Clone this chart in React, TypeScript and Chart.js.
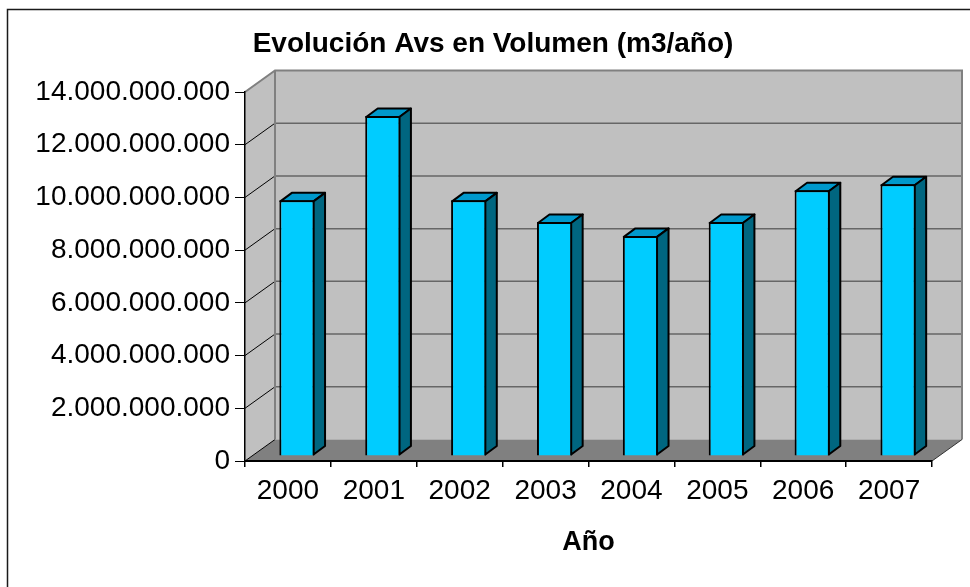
import React, { useEffect, useRef } from 'react';
import { Chart, registerables } from 'chart.js';

Chart.register(...registerables);

const categories = ['2000', '2001', '2002', '2003', '2004', '2005', '2006', '2007'];
const volumes = [9700000000, 12900000000, 9700000000, 8880000000, 8350000000, 8880000000, 10080000000, 10310000000];
const yMin = 0;
const yMax = 14000000000;
const yStep = 2000000000;

const titleText = 'Evolución Avs en Volumen (m3/año)';
const xTitleText = 'Año';

// 3D projection offsets (pixels)
const DX = 30;
const DY = -21.5;
const BDX = 9;
const BDY = -5;
const DDX = 11.5;
const DDY = -8.5;

const FRONT = '#00CCFF';
const TOP = '#0099CC';
const SIDE = '#006680';
const WALL = '#C0C0C0';
const FLOOR = '#808080';
const EDGE = '#808080';

const fmt = (v: number) => String(Math.round(v)).replace(/\B(?=(\d{3})+(?!\d))/g, '.');

const wallsPlugin = {
  id: 'walls3d',
  beforeDraw(chart: any) {
    const { ctx, chartArea, scales } = chart;
    const { left, right, top, bottom } = chartArea;
    const y = scales.y;
    ctx.save();
    ctx.fillStyle = '#fff';
    ctx.fillRect(0, 0, chart.width, chart.height);
    // outer frame
    ctx.strokeStyle = '#1a1a1a';
    ctx.lineWidth = 1.5;
    ctx.strokeRect(7.5, 9.5, chart.width + 40, chart.height + 40);

    // back wall
    ctx.fillStyle = WALL;
    ctx.fillRect(left + DX, top + DY, right - left, bottom - top);
    // side wall
    ctx.beginPath();
    ctx.moveTo(left, top);
    ctx.lineTo(left + DX, top + DY);
    ctx.lineTo(left + DX, bottom + DY);
    ctx.lineTo(left, bottom);
    ctx.closePath();
    ctx.fill();
    // floor
    ctx.fillStyle = FLOOR;
    ctx.beginPath();
    ctx.moveTo(left, bottom);
    ctx.lineTo(left + DX, bottom + DY);
    ctx.lineTo(right + DX, bottom + DY);
    ctx.lineTo(right, bottom);
    ctx.closePath();
    ctx.fill();

    // gridlines on back wall + diagonals on side wall
    y.ticks.forEach((t: any) => {
      const py = y.getPixelForValue(t.value);
      if (t.value > yMin && t.value < yMax) {
        ctx.strokeStyle = '#666';
        ctx.lineWidth = 1.5;
        ctx.beginPath();
        ctx.moveTo(left + DX, py + DY);
        ctx.lineTo(right + DX, py + DY);
        ctx.stroke();
      }
      if (t.value < yMax) {
        ctx.strokeStyle = '#000';
        ctx.lineWidth = 1;
        ctx.beginPath();
        ctx.moveTo(left, py);
        ctx.lineTo(left + DX, py + DY);
        ctx.stroke();
      }
    });

    // wall edges
    ctx.strokeStyle = EDGE;
    ctx.lineWidth = 2;
    ctx.beginPath();
    ctx.moveTo(left, top);
    ctx.lineTo(left + DX, top + DY);
    ctx.lineTo(right + DX, top + DY);
    ctx.lineTo(right + DX, bottom + DY);
    ctx.moveTo(left + DX, top + DY);
    ctx.lineTo(left + DX, bottom + DY);
    ctx.stroke();

    // floor right edge
    ctx.strokeStyle = '#333';
    ctx.lineWidth = 1;
    ctx.beginPath();
    ctx.moveTo(right, bottom);
    ctx.lineTo(right + DX, bottom + DY);
    ctx.stroke();
    ctx.restore();
  },
};

const barsPlugin = {
  id: 'bars3d',
  beforeDatasetDraw(chart: any, args: any) {
    const { ctx } = chart;
    ctx.save();
    ctx.lineWidth = 2;
    ctx.strokeStyle = '#000';
    ctx.lineJoin = 'round';
    args.meta.data.forEach((el: any) => {
      const { x, y, base, width } = el.getProps(['x', 'y', 'base', 'width'], true);
      const xl = x - width / 2 + BDX + 1;
      const xr = x + width / 2 + BDX - 1;
      const yt = y + BDY + 1;
      const yb = base + BDY - 1;
      ctx.beginPath();
      ctx.moveTo(xl, yt);
      ctx.lineTo(xl + DDX, yt + DDY);
      ctx.lineTo(xr + DDX, yt + DDY);
      ctx.lineTo(xr, yt);
      ctx.closePath();
      ctx.fillStyle = TOP;
      ctx.fill();
      ctx.stroke();
      ctx.beginPath();
      ctx.moveTo(xr, yt);
      ctx.lineTo(xr + DDX, yt + DDY);
      ctx.lineTo(xr + DDX, yb + DDY);
      ctx.lineTo(xr, yb);
      ctx.closePath();
      ctx.fillStyle = SIDE;
      ctx.fill();
      ctx.stroke();
    });
    ctx.translate(BDX, BDY);
  },
  afterDatasetDraw(chart: any) {
    chart.ctx.restore();
  },
};

export default function App() {
  const ref = useRef<HTMLCanvasElement>(null);
  useEffect(() => {
    Chart.defaults.font.family = '"Liberation Sans", Arial, sans-serif';
    const chart = new Chart(ref.current as HTMLCanvasElement, {
      type: 'bar',
      data: {
        labels: categories,
        datasets: [
          {
            data: volumes,
            backgroundColor: FRONT,
            borderColor: '#000',
            borderWidth: 2,
            barPercentage: 0.41,
            categoryPercentage: 1,
            clip: false as any,
          },
        ],
      },
      plugins: [wallsPlugin, barsPlugin],
      options: {
        responsive: false,
        devicePixelRatio: 1,
        animation: false,
        layout: { padding: { left: 16, right: 0, top: 0, bottom: 0 } },
        plugins: {
          legend: { display: false },
          tooltip: { enabled: false },
          title: {
            display: true,
            text: titleText,
            color: '#000',
            font: { size: 28, weight: 'bold' },
            padding: { top: 27, bottom: 31.4 },
          },
        },
        scales: {
          x: {
            type: 'category',
            offset: true,
            ticks: { color: '#000', font: { size: 28 }, padding: 7, maxRotation: 0, autoSkip: false },
            grid: { drawOnChartArea: false, offset: true, tickLength: 6, color: '#000', lineWidth: 1.5 },
            border: { display: true, color: '#000', width: 2 },
            title: {
              display: true,
              text: xTitleText,
              color: '#000',
              font: { size: 27, weight: 'bold' },
              padding: { top: 0, bottom: 28 },
            },
            afterFit: (s: any) => {
              s.height = 126;
            },
          },
          y: {
            min: yMin,
            max: yMax,
            ticks: {
              stepSize: yStep,
              color: '#000',
              font: { size: 28 },
              padding: 5,
              callback: (v: any) => fmt(Number(v)),
            },
            grid: { drawOnChartArea: false, tickLength: 10, color: '#000', lineWidth: 1 },
            border: { display: true, color: '#000', width: 1.5 },
            afterFit: (s: any) => {
              s.width = 229;
            },
          },
          yRightSpace: {
            type: 'linear',
            position: 'right',
            display: true,
            ticks: { display: false },
            grid: { display: false },
            border: { display: false },
            afterFit: (s: any) => {
              s.width = 38;
            },
          },
        },
      } as any,
    });
    return () => chart.destroy();
  }, []);
  return (
    <div style={{ position: 'fixed', left: 0, top: 0, width: 970, height: 587, background: '#fff' }}>
      <canvas ref={ref} width={970} height={587} style={{ display: 'block', width: 970, height: 587 }} />
    </div>
  );
}
